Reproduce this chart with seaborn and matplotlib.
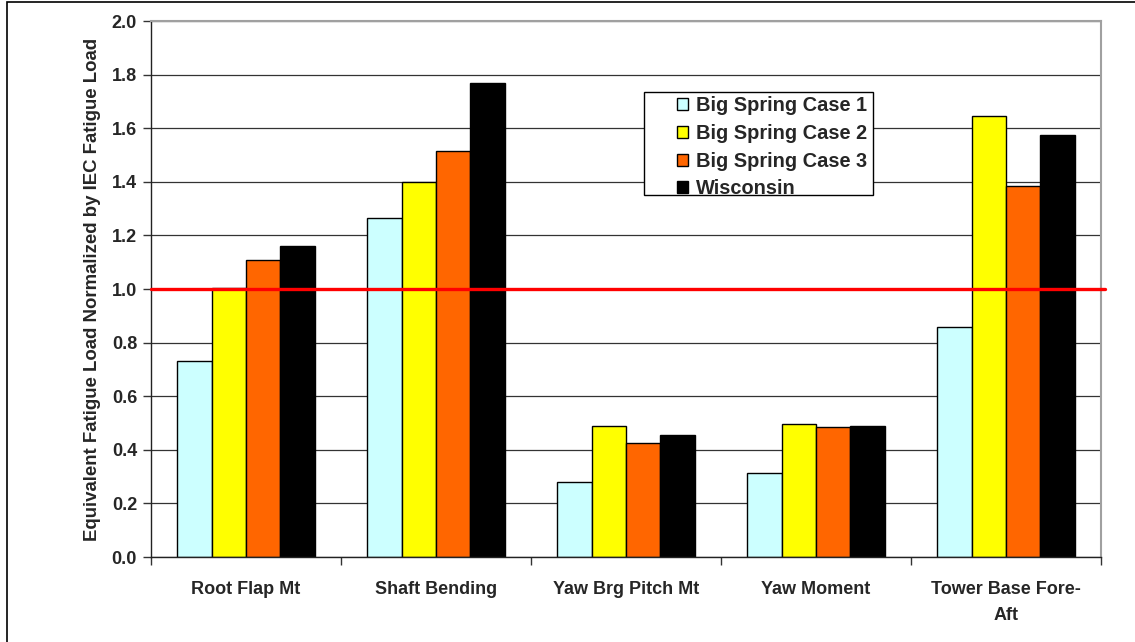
import matplotlib
matplotlib.use("Agg")
import matplotlib.pyplot as plt
import matplotlib.patches as mpatches
import seaborn as sns
import pandas as pd
import numpy as np

categories = ["Root Flap Mt", "Shaft Bending", "Yaw Brg Pitch Mt", "Yaw Moment", "Tower Base Fore-\nAft"]
series_names = ["Big Spring Case 1", "Big Spring Case 2", "Big Spring Case 3", "Wisconsin"]
case1 = [0.73, 1.265, 0.28, 0.315, 0.857]
case2 = [1.005, 1.40, 0.49, 0.495, 1.646]
case3 = [1.11, 1.515, 0.424, 0.485, 1.384]
wisconsin = [1.16, 1.77, 0.454, 0.49, 1.576]
colors = ["#CCFFFF", "#FFFF00", "#FF6600", "#000000"]
yticks = [0.0, 0.2, 0.4, 0.6, 0.8, 1.0, 1.2, 1.4, 1.6, 1.8, 2.0]
ylabel = "Equivalent Fatigue Load Normalized by IEC Fatigue Load"

rows = []
for name, vals in zip(series_names, [case1, case2, case3, wisconsin]):
    for c, v in zip(categories, vals):
        rows.append({"category": c, "series": name, "value": v})
df = pd.DataFrame(rows)

sns.set_theme(style="white")
plt.rcParams["font.family"] = ["Liberation Sans", "DejaVu Sans"]

W, H = 1135, 642
fig = plt.figure(figsize=(W / 100, H / 100), dpi=100)
ax = fig.add_axes([151 / W, 1 - 557 / H, 950 / W, 536 / H])

sns.barplot(data=df, x="category", y="value", hue="series", order=categories,
            hue_order=series_names, palette=colors, width=0.726,
            edgecolor="black", linewidth=1.0, saturation=1, ax=ax, zorder=2)

ax.set_ylim(0, 2.0)
ax.set_xlim(-0.5, len(categories) - 0.5)
ax.set_yticks(yticks)
ax.set_yticklabels([f"{t:.1f}" for t in yticks], fontsize=13, fontweight="bold")
ax.yaxis.grid(True, color="#333333", linewidth=0.9, zorder=0)
ax.set_axisbelow(True)

ax.set_xticks(range(len(categories)))
ax.set_xticklabels(categories, fontsize=13, fontweight="bold", linespacing=1.75)
ax.set_xticks(np.arange(-0.5, len(categories), 1.0), minor=True)
ax.tick_params(axis="x", which="major", length=0, pad=17)
ax.tick_params(axis="x", which="minor", length=6, width=1, color="#333333", direction="out", bottom=True)
ax.tick_params(axis="y", which="major", length=6, width=1, color="#333333", direction="out", left=True, pad=4)

ax.set_xlabel("")
ax.set_ylabel(ylabel, fontsize=13.4, fontweight="bold", labelpad=8)

for s in ["left", "bottom"]:
    ax.spines[s].set_color("#222222")
    ax.spines[s].set_linewidth(1.0)
for s in ["top", "right"]:
    ax.spines[s].set_color("#A0A0A0")
    ax.spines[s].set_linewidth(1.5)

ax.axhline(1.0, xmin=0, xmax=(1105 - 151) / 950, color="#FF0000", linewidth=2.4,
           zorder=5, clip_on=False)

handles = [mpatches.Patch(facecolor=c, edgecolor="black", linewidth=1.0) for c in colors]
leg = ax.legend(handles, series_names, loc="upper left",
                bbox_to_anchor=((677 - 151) / 950, 1 - (96 - 21) / 536),
                frameon=False, prop={"weight": "bold", "size": 14.4},
                handlelength=0.55, handleheight=0.55,
                handletextpad=0.4, labelspacing=0.44, borderpad=0, borderaxespad=0)
leg.set_zorder(10)

frame = mpatches.Rectangle(((644 - 151) / 950, 1 - (195 - 21) / 536), 229 / 950, 103 / 536,
                           transform=ax.transAxes, facecolor="white", edgecolor="black",
                           linewidth=1.0, zorder=9)
ax.add_patch(frame)

border = mpatches.Rectangle((7 / W, -0.1), 1.2, 1 - 2 / H + 0.1, transform=fig.transFigure,
                            fill=False, edgecolor="black", linewidth=1.2)
fig.patches.append(border)

fig.savefig("out.png", dpi=100)
